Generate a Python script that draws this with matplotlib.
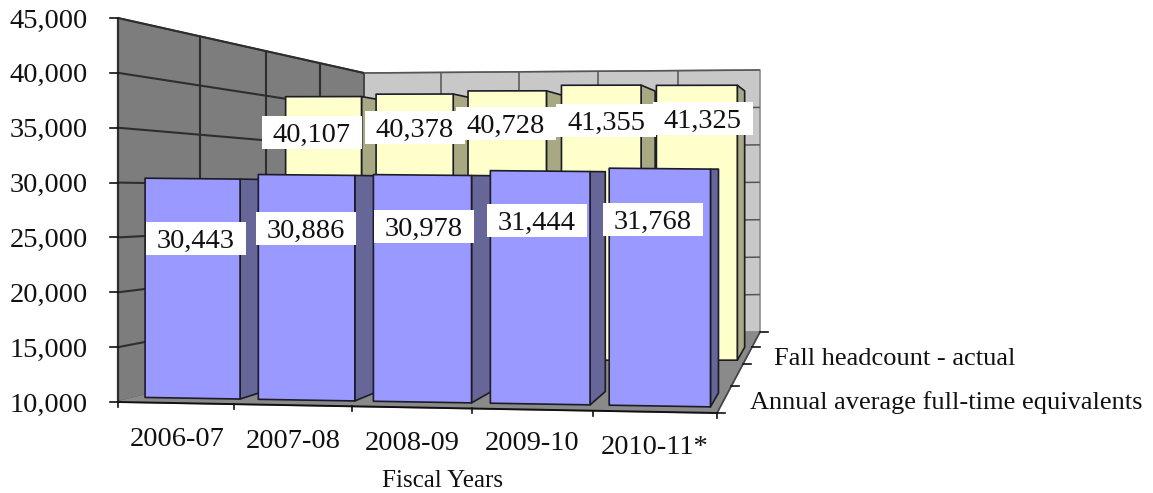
import numpy as np
import matplotlib
matplotlib.use("Agg")
import matplotlib.pyplot as plt
from matplotlib.patches import Polygon

years = ['2006-07', '2007-08', '2008-09', '2009-10', '2010-11*']
fte = [30443, 30886, 30978, 31444, 31768]
headcount = [40107, 40378, 40728, 41355, 41325]
series_names = ['Annual average full-time equivalents', 'Fall headcount - actual']
value_ticks = [10000, 15000, 20000, 25000, 30000, 35000, 40000, 45000]

V_MIN, V_MAX = value_ticks[0], value_ticks[-1]

# screen corners of the box: front left, front right, back right, back left
floor_xy = np.array([(118, 402), (717, 413), (760, 332), (364, 338)], float)
top_y = np.array([18, 21, 70, 73], float)
PERSP = 1.51


def project(cat, depth, value):
    # cat is 0..5 along the front edge, depth 0..1 front to back
    s = PERSP * depth / ((1 - depth) + PERSP * depth)
    t = cat / 5
    t = t - 0.04 * t * (1 - t)
    fl, fr, br, bl = floor_xy
    left = fl + s * (bl - fl)
    right = fr + s * (br - fr)
    x, y0 = left + t * (right - left)
    top_left = top_y[0] + s * (top_y[3] - top_y[0])
    top_right = top_y[1] + s * (top_y[2] - top_y[1])
    y1 = top_left + t * (top_right - top_left)
    return x, y0 + (value - V_MIN) / (V_MAX - V_MIN) * (y1 - y0)


def face(pts, color, edge='#1c1c28', lw=1.2, z=2):
    ax.add_patch(Polygon([project(*p) for p in pts], closed=True, facecolor=color,
                         edgecolor=edge, linewidth=lw, joinstyle='round', zorder=z))


def line3(p, q, color='#2e2e2e', lw=1.5, z=1.5):
    a, b = project(*p), project(*q)
    ax.plot([a[0], b[0]], [a[1], b[1]], color=color, lw=lw, zorder=z, solid_capstyle='butt')


def draw_bar(i, d0, d1, value, front_color, side_color):
    u0, u1 = i + 0.08, i + 0.92
    face([(u1, d0, V_MIN), (u1, d1, V_MIN), (u1, d1, value), (u1, d0, value)], side_color)
    face([(u0, d0, V_MIN), (u1, d0, V_MIN), (u1, d0, value), (u0, d0, value)], front_color)


fig = plt.figure(figsize=(11.53, 4.93), dpi=100)
ax = fig.add_axes([0, 0, 1, 1])
ax.set_xlim(0, 1153)
ax.set_ylim(493, 0)
ax.axis('off')

# walls and floor
face([(0, 1, V_MIN), (5, 1, V_MIN), (5, 1, V_MAX), (0, 1, V_MAX)], '#c8c8c8', edge='#8c8c8c', z=1)
face([(0, 0, V_MIN), (0, 1, V_MIN), (0, 1, V_MAX), (0, 0, V_MAX)], '#7d7d7d', edge='#3a3a3a', z=1.2)
face([(0, 0, V_MIN), (5, 0, V_MIN), (5, 1, V_MIN), (0, 1, V_MIN)], '#8a8a8a', edge='#8a8a8a', z=1.3)

# gridlines
for v in value_ticks[1:]:
    line3((0, 0, v), (0, 1, v))
    line3((0, 1, v), (5, 1, v), color='#555555', lw=1.1)
for d in [0.25, 0.5, 0.75]:
    line3((0, d, V_MIN), (0, d, V_MAX))
for c in range(1, 5):
    line3((c, 1, V_MIN), (c, 1, V_MAX), color='#555555', lw=1.1)
line3((0, 0, V_MIN), (0, 0, V_MAX), lw=1.6)
line3((0, 0, V_MIN), (5, 0, V_MIN), color='#111111', lw=1.4, z=1.6)
line3((5, 0, V_MIN), (5, 1, V_MIN), color='#444444', lw=1.2, z=1.6)

# bars, left to right so each covers the side of the one before
for i, v in enumerate(headcount):
    draw_bar(i, 0.554, 0.74, v, '#ffffcc', '#a8a882')
for i, v in enumerate(fte):
    draw_bar(i, 0.05, 0.178, v, '#9999ff', '#666699')

# tick marks
for v in value_ticks:
    x, y = project(0, 0, v)
    ax.plot([x - 8, x], [y, y], color='#111111', lw=1.2, zorder=3)
for c in range(0, 6):
    x, y = project(c, 0, V_MIN)
    ax.plot([x, x], [y, y + 5], color='#111111', lw=1.2, zorder=3)
for d in [0, 0.25, 0.5, 0.75, 1]:
    x, y = project(5, d, V_MIN)
    ax.plot([x, x + 8], [y, y], color='#111111', lw=1.2, zorder=3)

plt.rcParams['font.family'] = ['Liberation Serif', 'DejaVu Serif']
FS = 20.5

# value axis labels
for v in value_ticks:
    x, y = project(0, 0, v)
    ax.text(88, y + 3, f'{v:,}', ha='right', va='center', fontsize=FS, color='#111111', zorder=5)

# category and series labels
year_x = [177, 293, 412, 532, 655]
year_y = [440, 441, 443, 444, 447]
for x, y, s in zip(year_x, year_y, years):
    ax.text(x, y, s, ha='center', va='center', fontsize=FS, color='#111111', zorder=5)
ax.text(946, 403, series_names[0], ha='center', va='center', fontsize=19, color='#111111')
ax.text(895, 359, series_names[1], ha='center', va='center', fontsize=19, color='#111111')
ax.text(443, 481, 'Fiscal Years', ha='center', va='center', fontsize=18, color='#111111')

# data labels on white boxes
fte_label_xy = [(196, 239), (306, 229), (424, 227), (537, 221), (653, 220)]
head_label_xy = [(312, 133), (415, 128), (506, 124), (606, 121), (703, 119)]
for vals, places in [(headcount, head_label_xy), (fte, fte_label_xy)]:
    for v, (x, y) in zip(vals, places):
        ax.add_patch(plt.Rectangle((x - 50, y - 17), 100, 33, facecolor='white', edgecolor='none', zorder=6))
        ax.text(x, y + 2, f'{v:,}', ha='center', va='center', fontsize=FS, color='#111111', zorder=7)

fig.savefig('out.png', dpi=100)
